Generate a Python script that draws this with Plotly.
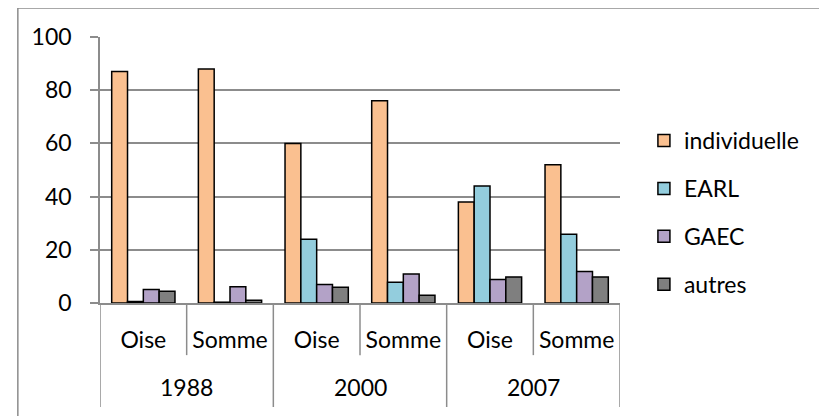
import plotly.graph_objects as go

years = ["1988", "2000", "2007"]
regions = ["Oise", "Somme", "Oise", "Somme", "Oise", "Somme"]
categories = [f"{y} {r}" for y in years for r in ["Oise", "Somme"]]
series_names = ["individuelle", "EARL", "GAEC", "autres"]
individuelle = [87, 88, 60, 76, 38, 52]
earl = [0.6, 0.3, 24, 7.8, 44, 25.8]
gaec = [5.1, 6.1, 7.0, 10.9, 8.8, 11.8]
autres = [4.4, 1.0, 5.9, 2.9, 9.8, 9.8]
y_ticks = [0, 20, 40, 60, 80, 100]

colors = ["#FAC090", "#93CDDD", "#B3A2C7", "#7F7F7F"]
values = [individuelle, earl, gaec, autres]

FONT = "Lato, Carlito, Calibri, sans-serif"
FS = 23
GRAY = "#8C8C8C"

fig = go.Figure()
for name, vals, col in zip(series_names, values, colors):
    fig.add_trace(go.Bar(
        x=categories, y=vals, name=name, legendgroup=name,
        marker=dict(color=col, line=dict(color="black", width=1.5)),
    ))

shapes = [dict(type="rect", xref="paper", yref="paper",
               x0=-0.158, x1=1.5, y0=-0.6, y1=1.109,
               line=dict(color=GRAY, width=1.5), fillcolor="rgba(0,0,0,0)", layer="below")]
# inner separators (between regions within a year)
for i in range(len(years)):
    shapes.append(dict(type="line", xref="x", yref="paper",
                       x0=2 * i + 0.5, x1=2 * i + 0.5, y0=0, y1=-0.196,
                       line=dict(color=GRAY, width=1.5)))
# outer separators (between years)
for i in range(len(years) + 1):
    shapes.append(dict(type="line", xref="x", yref="paper",
                       x0=2 * i - 0.5, x1=2 * i - 0.5, y0=0, y1=-0.391,
                       line=dict(color=GRAY, width=1.5)))

annotations = [dict(text=y, xref="x", yref="paper", x=2 * i + 0.5, y=-0.316,
                    xanchor="center", yanchor="middle", showarrow=False,
                    font=dict(family=FONT, size=FS, color="black"))
               for i, y in enumerate(years)]

fig.update_layout(
    width=827, height=416,
    margin=dict(l=92, r=215, t=29, b=121, autoexpand=False),
    paper_bgcolor="white", plot_bgcolor="white",
    barmode="group", bargap=0.27, bargroupgap=0,
    font=dict(family=FONT, size=FS, color="black"),
    showlegend=True,
    legend=dict(x=1.046, y=0.34, xanchor="left", yanchor="middle",
                traceorder="grouped", tracegroupgap=15,
                font=dict(family=FONT, size=FS)),
    xaxis=dict(type="category", tickmode="array", tickvals=categories, ticktext=regions,
               range=[-0.5, 5.5], automargin=False,
               showline=True, linecolor=GRAY, linewidth=1.5,
               ticks="", ticklabelstandoff=16,
               showgrid=False, tickfont=dict(family=FONT, size=FS)),
    yaxis=dict(range=[0, 100], tickvals=y_ticks, automargin=False,
               showgrid=True, gridcolor=GRAY, gridwidth=1.5,
               showline=True, linecolor=GRAY, linewidth=1.5,
               ticks="outside", ticklen=8, tickcolor=GRAY, tickwidth=1.5,
               ticklabelstandoff=14,
               zeroline=False, tickfont=dict(family=FONT, size=FS)),
    shapes=shapes,
    annotations=annotations,
)

fig.write_html("out.html")
